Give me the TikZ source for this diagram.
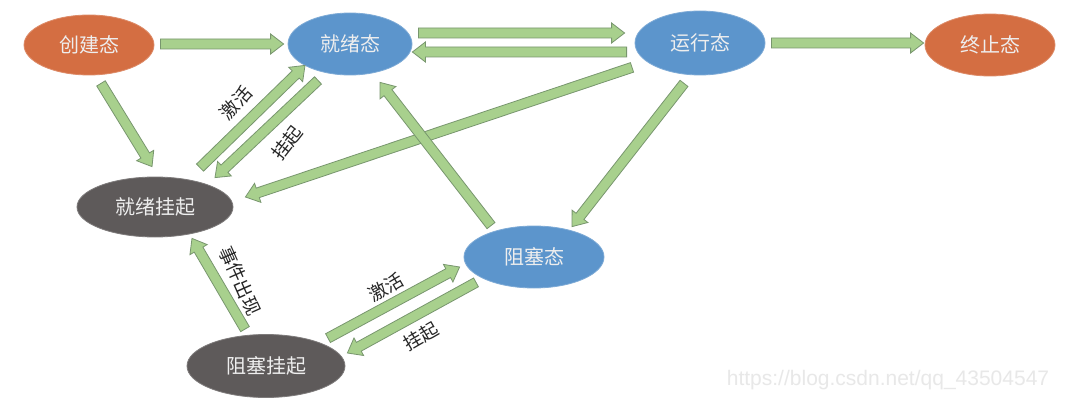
\documentclass[tikz,border=0pt]{standalone}
\usepackage{fontspec}
\setmainfont{Noto Sans CJK SC}
\newfontfamily\wmfont{Liberation Sans}
\usetikzlibrary{shapes.geometric,calc}
\definecolor{stOrange}{RGB}{212,110,66}
\definecolor{stBlue}{RGB}{92,149,204}
\definecolor{stGray}{RGB}{94,90,90}
\definecolor{arFill}{RGB}{168,208,141}
\definecolor{arLine}{RGB}{120,150,110}
\definecolor{nodeText}{RGB}{238,238,238}
\tikzset{
  state/.style={ellipse, inner sep=0pt, text=nodeText, font=\fontsize{20}{22}\selectfont},
  orangest/.style={state, fill=stOrange, draw=stOrange!80!white, line width=0.8pt},
  bluest/.style={state, fill=stBlue, draw=stBlue!80!white, line width=0.8pt},
  grayst/.style={state, fill=stGray, draw=stGray!80!white, line width=0.8pt},
  arrowbody/.style={fill=arFill, draw=arLine, line width=0.8pt, line join=miter},
  lbl/.style={inner sep=0pt, text=black!85, font=\fontsize{18.5}{20}\selectfont},
}
\newcommand\blockarrow[2]{%
  \coordinate (bah) at ($(#2)!13pt!(#1)$);
  \filldraw[arrowbody] ($(#1)!5pt!90:(#2)$) -- ($(bah)!5pt!-90:(#1)$) -- ($(bah)!10pt!-90:(#1)$) -- (#2) -- ($(bah)!10pt!90:(#1)$) -- ($(bah)!5pt!90:(#1)$) -- ($(#1)!5pt!-90:(#2)$) -- cycle;
}
\begin{document}
\begin{tikzpicture}[x=1pt,y=-1pt]
\useasboundingbox (0,0) rectangle (1084,409);
\fill[white] (0,0) rectangle (1084,409);
% states
\node[orangest, minimum width=130pt, minimum height=60pt] (create) at (89,45) {创建态};
\node[bluest, minimum width=124pt, minimum height=62pt] (ready) at (350,44) {就绪态};
\node[bluest, minimum width=130pt, minimum height=64pt] (run) at (700,43) {运行态};
\node[orangest, minimum width=130pt, minimum height=62pt] (term) at (990,45) {终止态};
\node[grayst, minimum width=156pt, minimum height=60pt] (rsus) at (155,207) {就绪挂起};
\node[bluest, minimum width=140pt, minimum height=62pt] (block) at (534,257) {阻塞态};
\node[grayst, minimum width=158pt, minimum height=63pt] (bsus) at (266,366) {阻塞挂起};
% connector end points
\coordinate (a1s) at ($(create.east)+(6,-1)$);
\coordinate (a1e) at ($(ready.west)+(-4,0)$);
\coordinate (a2s) at ($(ready.east)+(6,-11)$);
\coordinate (a2e) at ($(run.west)+(-10,-10)$);
\coordinate (a3s) at ($(run.west)+(-8,9)$);
\coordinate (a3e) at ($(ready.east)+(0,8)$);
\coordinate (a4s) at ($(run.east)+(6,0)$);
\coordinate (a4e) at ($(term.west)+(-1,-2)$);
\coordinate (a5s) at ($(create.south)+(12,8)$);
\coordinate (a5e) at ($(rsus.north)+(-3,-10)$);
\coordinate (a6s) at ($(rsus.north)+(45,-9)$);
\coordinate (a6e) at ($(ready.south)+(-45,-10)$);
\coordinate (a7s) at ($(ready.south)+(-32,5)$);
\coordinate (a7e) at ($(rsus.north)+(60,1)$);
\coordinate (a8s) at ($(run.south)+(-68,-8)$);
\coordinate (a8e) at ($(rsus.east)+(12,-10)$);
\coordinate (a9s) at ($(block.north)+(-43,0)$);
\coordinate (a9e) at ($(ready.south)+(30,7)$);
\coordinate (a10s) at ($(run.south)+(-16,8)$);
\coordinate (a10e) at ($(block.north)+(38,1)$);
\coordinate (a11s) at ($(bsus.north)+(-21,-5)$);
\coordinate (a11e) at ($(rsus.south)+(37,1)$);
\coordinate (a12s) at ($(bsus.north)+(62,4)$);
\coordinate (a12e) at ($(block.west)+(-4,10)$);
\coordinate (a13s) at ($(block.south)+(-58,-6)$);
\coordinate (a13e) at ($(bsus.east)+(2,-13)$);
% connectors
\blockarrow{a1s}{a1e}
\blockarrow{a2s}{a2e}
\blockarrow{a3s}{a3e}
\blockarrow{a4s}{a4e}
\blockarrow{a5s}{a5e}
\blockarrow{a6s}{a6e}
\blockarrow{a7s}{a7e}
\blockarrow{a8s}{a8e}
\blockarrow{a9s}{a9e}
\blockarrow{a10s}{a10e}
\blockarrow{a11s}{a11e}
\blockarrow{a12s}{a12e}
\blockarrow{a13s}{a13e}
% labels
\node[lbl, rotate=48] (l1) at (236,103) {激活};
\node[lbl, rotate=52] (l2) at (287,143) {挂起};
\node[lbl, rotate=-66] (l3) at (240,281) {事件出现};
\node[lbl, rotate=30] (l4) at (386,287) {激活};
\node[lbl, rotate=30] (l5) at (421,336) {挂起};
\node[inner sep=0pt, text=black!9, font=\wmfont\fontsize{21}{23}\selectfont] (wm) at (888,380) {https://blog.csdn.net/qq\_43504547};
\end{tikzpicture}
\end{document}
